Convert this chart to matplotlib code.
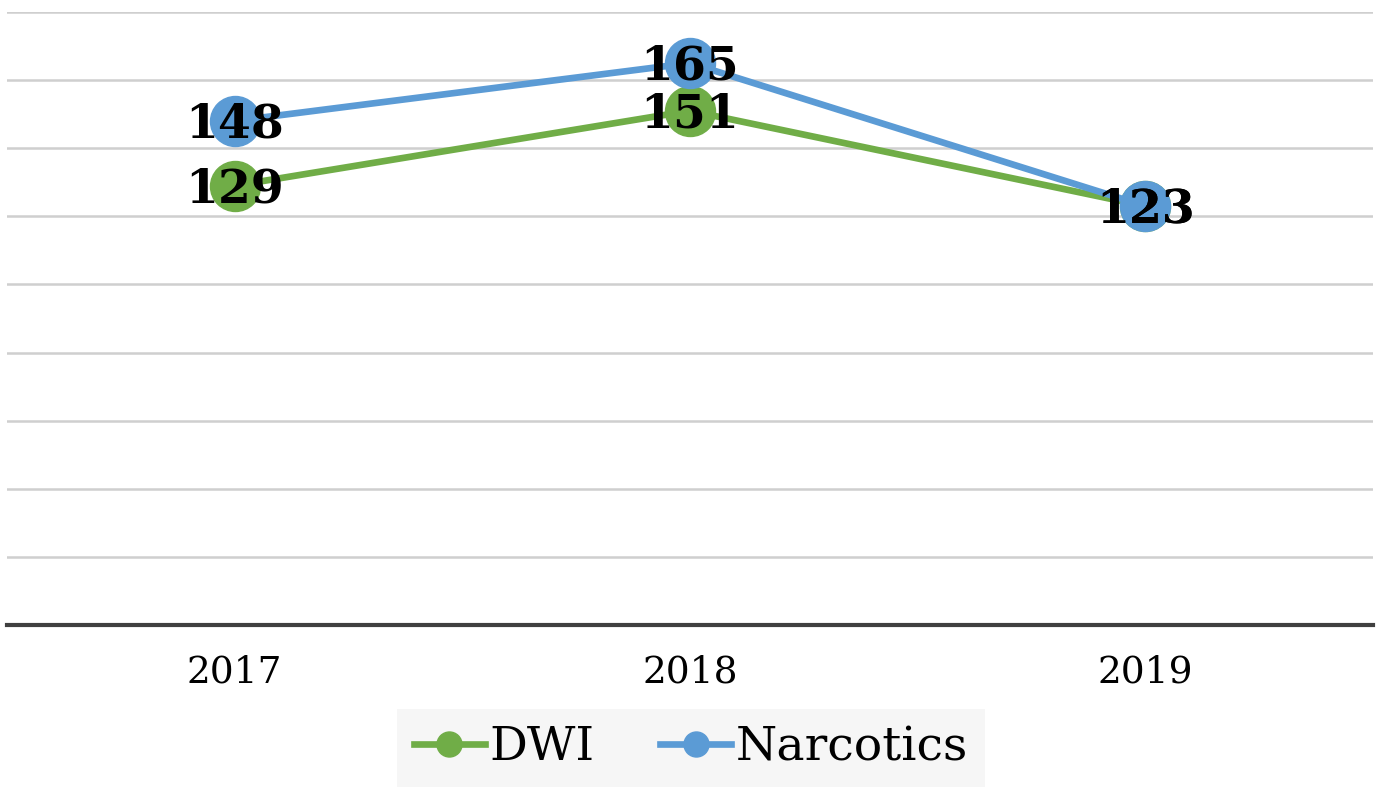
import numpy as np
import matplotlib.pyplot as plt

years = ['2017', '2018', '2019']
dwi = [129, 151, 123]
narcotics = [148, 165, 123]

plt.rcParams['font.family'] = ['DejaVu Serif']

fig = plt.figure(figsize=(13.85, 7.87), dpi=100)
ax = fig.add_axes([7 / 1385, 162 / 787, 1366 / 1385, 613 / 787])

x = np.arange(len(years))
ax.plot(x, dwi, color='#70AD47', lw=4.8, marker='o', ms=36, label='DWI', zorder=3)
ax.plot(x, narcotics, color='#5B9BD5', lw=4.8, marker='o', ms=36, label='Narcotics', zorder=3)

for xi, v in zip(x, dwi):
    ax.text(xi, v - 1, str(v), ha='center', va='center', fontsize=34, fontweight='bold', zorder=5)
for xi, v in zip(x, narcotics):
    ax.text(xi, v - 1, str(v), ha='center', va='center', fontsize=34, fontweight='bold', zorder=5)

ax.set_xlim(-0.5, 2.5)
ax.set_ylim(0, 180)
ax.set_yticks(np.arange(20, 181, 20))
ax.yaxis.grid(True, color='#cfcfcf', lw=1.8)
ax.set_axisbelow(True)
ax.tick_params(left=False, labelleft=False, bottom=False, labelsize=27, pad=18)
ax.set_xticks(x)
ax.set_xticklabels(years)
for s in ['left', 'right', 'top']:
    ax.spines[s].set_visible(False)
ax.spines['bottom'].set_color('#404040')
ax.spines['bottom'].set_linewidth(3)

leg = fig.legend(loc='lower center', bbox_to_anchor=(691 / 1385, 0), ncol=2, fontsize=34,
                 frameon=True, fancybox=False, edgecolor='none', facecolor='#f6f6f6',
                 framealpha=1, markerscale=0.5, handlelength=1.5, handletextpad=0.1,
                 columnspacing=1.4, borderpad=0.35, borderaxespad=0)

fig.savefig('out.png', dpi=100)
